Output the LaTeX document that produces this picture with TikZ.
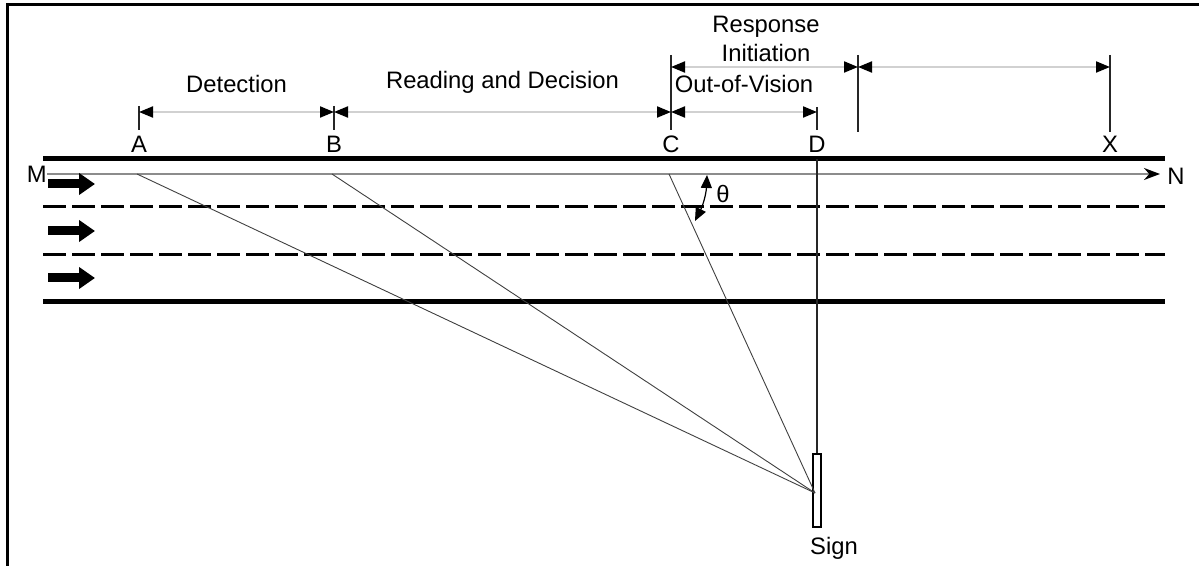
\documentclass[tikz,border=0pt]{standalone}
\usepackage{fontspec}
\setmainfont{Liberation Sans}
\usetikzlibrary{arrows.meta}

\tikzset{
  lbl/.style={font=\fontsize{11.9}{13.5}\selectfont, inner sep=0pt},
  dimline/.style={draw=black!18, line width=1pt,
    {Triangle[length=7pt,width=5.5pt,black]}-{Triangle[length=7pt,width=5.5pt,black]}},
  tickline/.style={draw=black!85, line width=0.6pt},
  roadedge/.style={line width=2.5pt},
  lanemark/.style={line width=1.5pt, dash pattern=on 11.5pt off 3pt},
  sight/.style={draw=black!75, line width=0.45pt},
  flow/.style={line width=4.5pt, -{Triangle[length=8pt,width=10.5pt]}}
}

\begin{document}
\begin{tikzpicture}[x=0.5pt, y=-0.5pt]
    \useasboundingbox (0,0) rectangle (1199,566);
    % frame
    \draw[line width=1.5pt] (7,566) -- (7,5) -- (1199,5);

    % stations along the road
    \foreach \n/\x in {A/139, B/334, C/671, D/817, X/1110}
      \node[lbl] (lbl\n) at (\x,144) {\n};
    \coordinate (tA) at (139,106);  \coordinate (bA) at (139,130);
    \coordinate (tB) at (334,106);  \coordinate (bB) at (334,130);
    \coordinate (tC) at (671,55);   \coordinate (bC) at (671,130);
    \coordinate (tD) at (817,107);  \coordinate (bD) at (817,130);
    \coordinate (tR) at (858,55);   \coordinate (bR) at (858,132);
    \coordinate (tX) at (1110,55);  \coordinate (bX) at (1110,132);
    \foreach \n in {A,B,C,D,R,X} \draw[tickline] (t\n) -- (b\n);

    % dimension arrows
    \draw[dimline] (139,112) -- node[lbl, above=9pt] (det) {Detection} (334,112);
    \draw[dimline] (334,112) -- node[lbl, above=9pt] (read) {Reading and Decision} (671,112);
    \draw[dimline] (671,112) -- node[lbl, above=9pt] (oov) {Out-of-Vision} (817,112);
    \draw[dimline] (671,67) -- (858,67);
    \draw[dimline] (858,67) -- (1110,67);
    \node[lbl, align=center] (resp) at (766,39) {Response\\[1pt]Initiation};

    % road
    \draw[roadedge] (43,159) -- (1165,159);
    \draw[roadedge] (43,302) -- (1165,302);
    \draw[lanemark] (43,207) -- (1165,207);
    \draw[lanemark] (43,255) -- (1165,255);
    \node[lbl, anchor=east, inner sep=0pt] (M) at (47,174) {M};
    \node[lbl, anchor=west, inner sep=0pt] (N) at (1167,176) {N};
    \draw[draw=black!45, line width=1pt, -{Stealth[length=8pt,width=6pt,black]}] (M.east) -- (1160,174);
    \foreach \y in {184,231,278}
      \draw[flow] (48,\y) -- (95,\y);

    % sign and sight lines
    \node[draw, line width=0.6pt, minimum width=4pt, minimum height=36.5pt, inner sep=0pt] (sign) at (817,490.5) {};
    \coordinate (S) at (815,493);
    \node[lbl] (signlbl) at (834,548) {Sign};
    \draw[tickline] (817,159) -- (sign.north);
    \coordinate (sA) at (137,174);
    \coordinate (sB) at (332,174);
    \coordinate (sC) at (669,174);
    \foreach \n in {A,B,C} \draw[sight] (s\n) -- (S);

    % angle
    \coordinate (th1) at (707,175);
    \coordinate (th2) at (695,221);
    \draw[line width=0.6pt, {Triangle[length=6.5pt,width=5.5pt]}-{Triangle[length=6.5pt,width=5.5pt]}] (th1) to[bend left=12] (th2);
    \node[lbl] (theta) at (723,194) {θ};
\end{tikzpicture}
\end{document}
